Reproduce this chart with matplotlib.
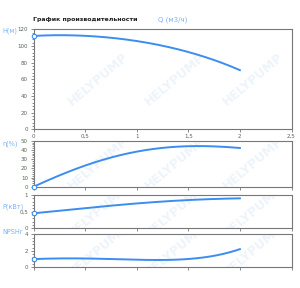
import numpy as np
import matplotlib
matplotlib.use("Agg")
import matplotlib.pyplot as plt
from matplotlib.ticker import AutoMinorLocator, FuncFormatter

# Flow (m3/h) and curves
q = [0, 0.25, 0.5, 0.75, 1.0, 1.25, 1.5, 1.75, 2.0]
head = [112, 113, 112, 110, 106, 100, 93, 83, 71]
eff = [0, 12, 23, 32, 38, 42, 44, 44, 42]
power = [0.45, 0.53, 0.6, 0.68, 0.75, 0.8, 0.85, 0.88, 0.9]
npsh = [1.0, 1.05, 1.1, 1.0, 0.9, 0.9, 1.0, 1.4, 2.2]

W, H = 300, 288
BLUE = "#3b8df0"
LBLUE = "#7fb3f5"
GRID = "#777777"
TXT = "#556655"


def comma(v, pos):
    return f"{v:g}".replace(".", ",")


def smooth(x, y):
    xs = np.linspace(x[0], x[-1], 200)
    c = np.polyfit(x, y, 4)
    return xs, np.polyval(c, xs)


def box(top, bottom):
    l, r = 33.5, 291.5
    return [l / W, 1 - bottom / H, (r - l) / W, (bottom - top) / H]


fig = plt.figure(figsize=(W / 100, H / 100), dpi=100)

# rect, data, ylim, step, label, label y (px)
panels = [
    (box(29.3, 129.3), head, (0, 120), 20, "H(м)", 31),
    (box(140.7, 186.7), eff, (0, 50), 10, "η(%)", 144),
    (box(195, 228.3), power, (0, 1), 0.5, "P(кВт)", 206.5),
    (box(234.3, 267.3), npsh, (0, 4), 2, "NPSHr", 232),
]

for i, (rect, ys, ylim, step, lab, ly) in enumerate(panels):
    ax = fig.add_axes(rect)
    xs, yv = smooth(q, ys)
    ax.plot(xs, yv, color=BLUE, lw=1.4, zorder=3)
    ax.plot([q[0]], [ys[0]], "o", ms=3.2, mfc="white", mec=BLUE, mew=0.8,
            zorder=4, clip_on=False)
    ax.set_xlim(0, 2.5)
    ax.set_ylim(*ylim)
    ax.set_yticks(np.arange(ylim[0], ylim[1] + step / 2, step))
    ax.yaxis.set_minor_locator(AutoMinorLocator(5))
    ax.yaxis.set_major_formatter(FuncFormatter(comma))
    ax.set_xticks(np.arange(0, 2.51, 0.5))
    ax.xaxis.set_major_formatter(FuncFormatter(comma))
    ax.tick_params(axis="y", which="major", length=2, width=0.6, color=GRID,
                   labelsize=4, labelcolor=TXT, pad=2)
    ax.tick_params(axis="y", which="minor", length=1.2, width=0.6, color=GRID)
    ax.tick_params(axis="x", length=2, width=0.6, color=GRID, labelsize=4,
                   labelcolor=TXT, pad=1.5, labelbottom=(i == 0))
    for s in ax.spines.values():
        s.set_color(GRID)
        s.set_linewidth(0.8)
    fig.text(2.5 / W, 1 - ly / H, lab, fontsize=4.7, color=LBLUE, va="center")
    # faint watermark
    for wx in (0.25, 0.55, 0.85):
        ax.text(wx, 0.5, "HELYPUMP", transform=ax.transAxes, rotation=40,
                fontsize=9, color="#eef4fb", fontweight="bold", ha="center",
                va="center", zorder=0, clip_on=True)

fig.text(33 / W, 1 - 20 / H, "График производительности", fontsize=4.5,
         fontweight="bold", color="#222222", va="center")
fig.text(158 / W, 1 - 20 / H, "Q (м3/ч)", fontsize=5, color=LBLUE,
         va="center")

fig.savefig("out.png", dpi=100)
